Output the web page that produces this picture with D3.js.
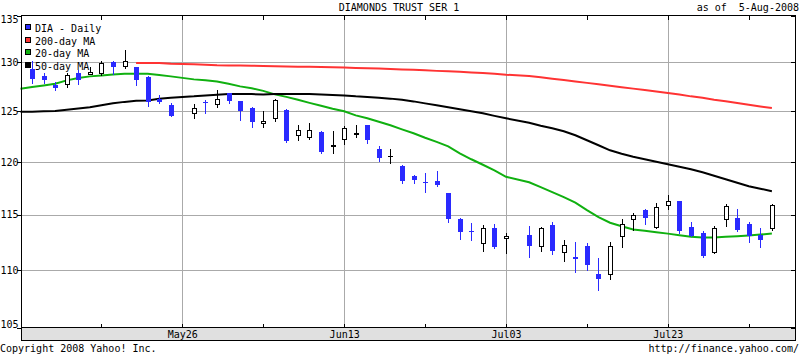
<!DOCTYPE html>
<html><head><meta charset="utf-8">
<script src="https://cdn.jsdelivr.net/npm/d3@7"></script>
<style>
body{margin:0;background:#fff;}
svg{display:block;}
text{font-family:"DejaVu Sans Mono",monospace;font-size:10px;fill:#000;}
</style>
</head><body>
<svg id="c" width="800" height="355"></svg>
<script>
// ---------------- data ----------------
const dates = ["2008-05-06","2008-05-07","2008-05-08","2008-05-09","2008-05-12","2008-05-13","2008-05-14","2008-05-15","2008-05-16","2008-05-19",
"2008-05-20","2008-05-21","2008-05-22","2008-05-23","2008-05-27","2008-05-28","2008-05-29","2008-05-30","2008-06-02","2008-06-03",
"2008-06-04","2008-06-05","2008-06-06","2008-06-09","2008-06-10","2008-06-11","2008-06-12","2008-06-13","2008-06-16","2008-06-17",
"2008-06-18","2008-06-19","2008-06-20","2008-06-23","2008-06-24","2008-06-25","2008-06-26","2008-06-27","2008-06-30","2008-07-01",
"2008-07-02","2008-07-03","2008-07-07","2008-07-08","2008-07-09","2008-07-10","2008-07-11","2008-07-14","2008-07-15","2008-07-16",
"2008-07-17","2008-07-18","2008-07-21","2008-07-22","2008-07-23","2008-07-24","2008-07-25","2008-07-28","2008-07-29","2008-07-30",
"2008-07-31","2008-08-01","2008-08-04","2008-08-05"];
const open  = [null,129.3,128.6,127.7,127.8,128.95,128.8,128.9,130.0,129.6,
129.5,128.5,126.2,125.6,124.86,125.9,125.7,126.8,126.0,125.35,
123.8,124.3,125.15,122.6,122.4,122.95,121.55,122.2,122.75,123.6,
121.3,120.55,119.6,118.65,118.05,118.2,117.0,114.6,113.5,112.4,
113.8,112.85,113.15,112.2,114.05,111.6,111.2,112.15,109.7,109.7,
113.1,114.6,115.45,113.9,115.95,116.25,113.85,113.35,111.6,114.6,
114.75,114.15,113.15,113.8];
const high  = [null,130.2,128.9,128.0,128.95,129.2,129.5,130.2,130.1,131.3,
129.55,128.6,126.6,125.8,125.7,126.1,127.2,126.85,126.05,125.4,
125.0,126.2,125.2,123.6,123.85,123.0,123.05,123.55,123.65,123.65,
121.55,121.3,119.7,118.75,118.9,119.1,117.05,114.75,114.25,114.05,
114.2,113.3,114.0,113.85,114.3,112.7,112.5,112.45,111.05,112.55,
114.6,115.15,115.55,116.1,116.85,116.3,114.3,113.5,114.0,116.0,
115.55,114.3,113.8,116.0];
const low   = [null,127.9,127.9,127.2,127.5,127.8,128.75,128.7,128.8,129.45,
127.65,125.5,125.8,124.5,124.35,124.85,125.4,125.85,124.1,123.4,
123.45,124.0,121.9,122.15,122.2,120.9,120.9,121.75,122.45,121.8,
120.05,119.9,118.0,118.0,117.1,117.7,114.35,112.8,112.7,111.75,
111.95,111.55,111.15,111.75,111.4,110.85,109.8,110.0,108.3,109.2,
112.1,113.6,114.15,113.75,115.5,113.35,113.05,111.15,111.5,114.0,
113.55,112.55,112.1,113.6];
const close = [null,128.3,128.2,127.4,128.7,128.2,129.0,129.95,129.5,130.2,
128.2,125.95,125.9,124.55,125.33,125.8,126.2,126.05,125.0,123.95,
124.0,126.1,122.05,123.1,123.1,121.0,121.6,123.35,122.8,122.1,
120.35,120.6,118.2,118.25,118.0,117.8,114.6,113.45,113.45,113.8,
112.05,113.05,112.15,113.75,111.7,112.25,111.0,110.45,109.25,112.15,
114.15,114.95,114.7,115.7,116.25,113.5,113.1,111.3,113.8,115.8,
113.6,113.05,112.7,115.9];
const ma20  = [127.28,127.45,127.62,127.80,128.14,128.39,128.55,128.65,128.75,128.81,
128.83,128.81,128.70,128.55,128.24,128.14,128.03,127.78,127.52,127.32,
127.06,126.70,126.45,126.15,125.84,125.54,125.24,124.99,124.58,124.29,
123.94,123.59,123.19,122.80,122.36,121.96,121.52,120.84,120.26,119.73,
119.20,118.58,118.06,117.59,117.12,116.65,116.13,115.44,114.79,114.28,
113.96,113.66,113.55,113.41,113.28,113.14,113.00,112.93,112.93,112.99,
113.05,113.11,113.19,113.29];
const ma50  = [124.95,124.95,124.99,125.02,125.14,125.26,125.39,125.59,125.79,125.94,
126.06,126.09,126.25,126.37,126.50,126.60,126.67,126.73,126.73,126.73,
126.70,126.73,126.75,126.75,126.75,126.70,126.65,126.60,126.50,126.43,
126.35,126.27,126.15,125.99,125.79,125.59,125.39,125.19,124.99,124.79,
124.53,124.29,123.84,123.54,123.29,123.00,122.60,122.11,121.62,121.13,
120.79,120.50,120.26,120.02,119.78,119.54,119.30,119.01,118.68,118.35,
118.01,117.68,117.45,117.21];
const ma200 = [null,null,null,null,null,null,null,null,null,null,
129.95,129.93,129.93,129.85,129.80,129.76,129.70,129.69,129.68,129.66,
129.62,129.60,129.58,129.56,129.54,129.52,129.50,129.46,129.43,129.40,
129.36,129.32,129.27,129.23,129.18,129.12,129.07,129.02,128.96,128.90,
128.82,128.72,128.58,128.45,128.30,128.17,128.03,127.88,127.73,127.58,
127.43,127.29,127.14,127.00,126.85,126.70,126.50,126.35,126.15,126.00,
125.82,125.65,125.48,125.32];
const yTicks = [105,110,115,120,125,130,135];
const yGrid = [110,115,120,125,130];
const xLabels = ["May26","Jun13","Jul03","Jul23"];
const xLabelDates = ["2008-05-26","2008-06-13","2008-07-03","2008-07-23"];
const legendNames = ["DIA - Daily","200-day MA","20-day MA","50-day MA"];
const legendColors = ["#2a2aff","#ff3333","#10b010","#000000"];
const titleText = "DIAMONDS TRUST SER 1";
const asOfText = "as of  5-Aug-2008";
const copyrightText = "Copyright 2008 Yahoo! Inc.";
const urlText = "http://finance.yahoo.com/";

// ---------------- helpers ----------------
const parse = d3.timeParse("%Y-%m-%d");
const origin = parse("2008-05-06");
function wd(s){ return d3.timeDay.range(origin, parse(s)).filter(t => t.getDay()%6 !== 0).length; }

const L = 21, R = 795, T = 15, B = 327;
const x = d3.scaleLinear().domain([0,67]).range([20.5, 795]);
const y = d3.scaleLog().domain([105,135]).range([328, 15.5]);

const BLUE = legendColors[0], RED = legendColors[1], GREEN = legendColors[2];
const svg = d3.select("#c");
svg.append("rect").attr("width",800).attr("height",355).attr("fill","#fff");

const rows = dates.map((d,i)=>({k:wd(d), o:open[i], h:high[i], l:low[i], c:close[i], m20:ma20[i], m50:ma50[i], m200:ma200[i]}));

// gridlines
const g = svg.append("g").attr("shape-rendering","crispEdges");
yGrid.forEach(v=>{
  const py = Math.round(y(v))+0.5;
  g.append("line").attr("x1",L).attr("x2",R).attr("y1",py).attr("y2",py).attr("stroke","#aaaaaa");
});
xLabelDates.forEach(d=>{
  const px = Math.round(x(wd(d)))+0.5;
  g.append("line").attr("x1",px).attr("x2",px).attr("y1",T).attr("y2",B).attr("stroke","#aaaaaa");
});

// moving averages
function maLine(key,color){
  const line = d3.line().defined(r=>r[key]!=null).x(r=>x(r.k)).y(r=>y(r[key]));
  svg.append("path").datum(rows).attr("d",line).attr("fill","none").attr("stroke",color).attr("stroke-width",2);
}
maLine("m200",RED);
maLine("m20",GREEN);
maLine("m50","#000");

// candles
const cg = svg.append("g").attr("shape-rendering","crispEdges");
rows.filter(r=>r.o!=null).forEach(r=>{
  const cx = Math.round(x(r.k));
  const up = r.c >= r.o;
  const col = up ? "#000" : BLUE;
  const yt = Math.round(y(Math.max(r.o,r.c))), yb = Math.round(y(Math.min(r.o,r.c)));
  cg.append("line").attr("x1",cx+0.5).attr("x2",cx+0.5).attr("y1",Math.round(y(r.h))).attr("y2",Math.round(y(r.l))+1).attr("stroke",col);
  if(up){
    if(yb-yt < 1){
      cg.append("line").attr("x1",cx-2).attr("x2",cx+3).attr("y1",yt+0.5).attr("y2",yt+0.5).attr("stroke","#000");
    } else {
      cg.append("rect").attr("x",cx-1.5).attr("y",yt+0.5).attr("width",4).attr("height",yb-yt).attr("fill","#fff").attr("stroke","#000");
    }
  } else {
    cg.append("rect").attr("x",cx-2).attr("y",yt).attr("width",5).attr("height",Math.max(1,yb-yt)).attr("fill",BLUE);
  }
});

// frame, band and ticks
const f = svg.append("g").attr("shape-rendering","crispEdges");
f.append("rect").attr("x",L+0.5).attr("y",B+0.5).attr("width",R-L).attr("height",13).attr("fill","#e0e0e0").attr("stroke","#000");
f.append("line").attr("x1",L+0.5).attr("x2",L+0.5).attr("y1",T).attr("y2",B+1).attr("stroke","#000");
f.append("line").attr("x1",R+0.5).attr("x2",R+0.5).attr("y1",T).attr("y2",B+1).attr("stroke","#000");
f.append("line").attr("x1",L).attr("x2",R+1).attr("y1",T+0.5).attr("y2",T+0.5).attr("stroke","#000");
d3.range(0,67,7).forEach(k=>{
  const px = Math.round(x(k))+0.5;
  f.append("line").attr("x1",px).attr("x2",px).attr("y1",T).attr("y2",T+5).attr("stroke","#000");
  f.append("line").attr("x1",px).attr("x2",px).attr("y1",B-3).attr("y2",B).attr("stroke","#000");
});
yTicks.forEach(v=>{
  const py = Math.round(y(v))+0.5;
  f.append("line").attr("x1",17).attr("x2",L).attr("y1",py).attr("y2",py).attr("stroke","#000");
  f.append("line").attr("x1",R-4).attr("x2",R).attr("y1",py).attr("y2",py).attr("stroke","#000");
  const cy = Math.max(19.7, Math.min(324.7, y(v)));
  svg.append("text").attr("x",18.5).attr("y",cy+3.6).attr("text-anchor","end").text(v);
});
xLabels.forEach((t,i)=>{
  svg.append("text").attr("x",x(wd(xLabelDates[i]))+0.5).attr("y",338).attr("text-anchor","middle").text(t);
});

// legend
legendNames.forEach((n,i)=>{
  const top = Math.round(24 + i*12.67);
  svg.append("rect").attr("x",25.5).attr("y",top+0.5).attr("width",5).attr("height",5)
    .attr("fill",legendColors[i]).attr("stroke","#000").attr("shape-rendering","crispEdges");
  svg.append("text").attr("x",35).attr("y",top+8).text(n);
});

// titles
svg.append("text").attr("x",399).attr("y",11).attr("text-anchor","middle").text(titleText);
svg.append("text").attr("x",799).attr("y",11).attr("text-anchor","end").attr("xml:space","preserve").style("white-space","pre").text(asOfText);
svg.append("text").attr("x",0).attr("y",352).text(copyrightText);
svg.append("text").attr("x",799).attr("y",352).attr("text-anchor","end").text(urlText);
</script>
</body></html>
